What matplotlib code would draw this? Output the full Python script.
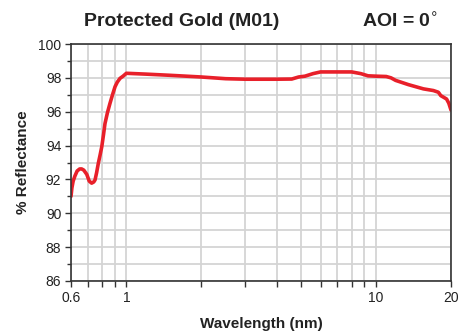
import matplotlib
matplotlib.use("Agg")
import matplotlib.pyplot as plt
from matplotlib.ticker import FixedLocator, NullFormatter, FixedFormatter

# Reflectance of protected gold mirror coating vs wavelength
wavelength = [0.600, 0.605, 0.612, 0.622, 0.635, 0.650, 0.662, 0.675, 0.694, 0.710,
              0.726, 0.740, 0.749, 0.760, 0.772, 0.785, 0.797, 0.810, 0.821, 0.840,
              0.860, 0.880, 0.901, 0.920, 0.943, 0.970, 1.000, 1.2, 1.5, 2.0,
              2.5, 3.0, 4.0, 4.6, 4.9, 5.2, 5.6, 6.0, 7.0, 8.0,
              8.7, 9.3, 10.0, 11.0, 11.5, 12.0, 13.5, 15.5, 17.0, 17.8,
              18.2, 18.7, 19.2, 19.6, 20.0]
reflectance = [91.0, 91.5, 91.9, 92.2, 92.5, 92.62, 92.62, 92.55, 92.3, 91.9,
               91.78, 91.85, 91.97, 92.4, 92.95, 93.45, 93.93, 94.65, 95.3, 95.95,
               96.5, 97.0, 97.48, 97.75, 97.97, 98.1, 98.27, 98.22, 98.15, 98.05,
               97.95, 97.92, 97.92, 97.93, 98.05, 98.1, 98.25, 98.35, 98.35, 98.35,
               98.25, 98.12, 98.1, 98.08, 98.0, 97.85, 97.6, 97.35, 97.25, 97.15,
               96.95, 96.85, 96.75, 96.5, 96.1]

x_grid = [0.6, 0.7, 0.8, 0.9, 1, 2, 3, 4, 5, 6, 7, 8, 9, 10, 20]
x_tick_labels = {0.6: "0.6", 1: "1", 10: "10", 20: "20"}
y_major = [86, 88, 90, 92, 94, 96, 98, 100]
y_minor = [87, 89, 91, 93, 95, 97, 99]

plt.rcParams["font.family"] = ["Liberation Sans", "DejaVu Sans"]

fig = plt.figure(figsize=(4.61, 3.32), dpi=100)
ax = fig.add_axes([71 / 461, 51 / 332, 380 / 461, 237 / 332])

ax.set_xscale("log")
ax.set_xlim(0.6, 20)
ax.set_ylim(86, 100)

ax.xaxis.set_major_locator(FixedLocator(x_grid))
ax.xaxis.set_major_formatter(FixedFormatter([x_tick_labels.get(v, "") for v in x_grid]))
ax.xaxis.set_minor_locator(FixedLocator([]))
ax.xaxis.set_minor_formatter(NullFormatter())
ax.yaxis.set_major_locator(FixedLocator(y_major))
ax.yaxis.set_minor_locator(FixedLocator(y_minor))

ax.grid(True, which="both", color="#d4d4d4", linewidth=1.3)
ax.set_axisbelow(True)

ax.tick_params(axis="both", which="major", direction="out", length=4, width=1,
               color="#333333", labelsize=10, labelcolor="#222222", pad=3)
ax.tick_params(axis="y", which="minor", direction="out", length=3, width=1, color="#333333")

for s in ax.spines.values():
    s.set_color("#333333")
    s.set_linewidth(1.2)

ax.plot(wavelength, reflectance, color="#e8202a", linewidth=2.6, solid_capstyle="round")

ax.set_xlabel("Wavelength (nm)", fontsize=11, fontweight="bold", color="#222222", labelpad=9)
ax.set_ylabel("% Reflectance", fontsize=11, fontweight="bold", color="#222222", labelpad=6)

fig.text(182 / 461, 1 - 22 / 332, "Protected Gold (M01)", fontsize=14, fontweight="bold",
         ha="center", va="center", color="#222222")
fig.text(438 / 461, 1 - 22 / 332, "AOI = 0$^{\\circ}$", fontsize=14, fontweight="bold",
         ha="right", va="center", color="#222222")

fig.savefig("out.png", dpi=100)
